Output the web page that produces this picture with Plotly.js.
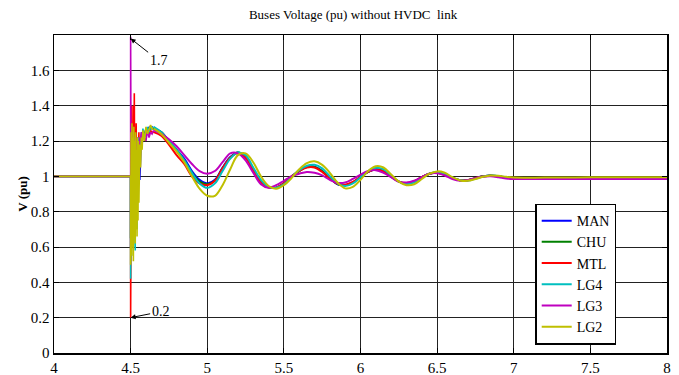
<!DOCTYPE html>
<html>
<head>
<meta charset="utf-8">
<script src="https://cdn.plot.ly/plotly-3.0.1.min.js"></script>
<style>html,body{margin:0;padding:0;background:#fff;}#chart{width:679px;height:375px;}</style>
</head>
<body>
<div id="chart"></div>
<script>
// Time stamps (s)
const tFault = [4.0, 4.5, 4.5, 4.503, 4.506, 4.509, 4.512, 4.515, 4.518, 4.521, 4.524, 4.527, 4.530,
  4.533, 4.536, 4.539, 4.542, 4.545, 4.548, 4.551, 4.554, 4.557, 4.560, 4.565, 4.570, 4.575, 4.580,
  4.590, 4.600, 4.610, 4.620, 4.630, 4.640];
const tSwing = [4.65, 4.70, 4.75, 4.80, 4.85, 4.90, 4.95, 5.00, 5.05, 5.10, 5.15, 5.20, 5.25, 5.30,
  5.35, 5.40, 5.45, 5.50, 5.55, 5.60, 5.65, 5.70, 5.75, 5.80, 5.85, 5.90, 5.95, 6.00, 6.05, 6.10,
  6.15, 6.20, 6.25, 6.30, 6.35, 6.40, 6.45, 6.50, 6.55, 6.60, 6.65, 6.70, 6.75, 6.80, 6.85, 6.90,
  6.95, 7.00, 7.20, 7.40, 7.60, 7.80, 8.00];

// Series names and colours
const names = ["MAN", "CHU", "MTL", "LG4", "LG3", "LG2"];
const colors = ["#0000FF", "#008000", "#FF0000", "#00BFBF", "#BF00BF", "#BFBF00"];

// Fault period voltages (pu)
const manFault = [1,1, 0.6, 1.2,0.7,1.25,0.8,1.2,0.75,1.22,0.85,1.18,0.8, 1.2,0.9,1.15,0.85,1.2,0.95,1.18,1.0,1.15,0.98, 1.2,1.22,1.2,1.26,1.22,1.27,1.25,1.28,1.27,1.28];
const chuFault = [1,1, 0.65, 1.22,0.72,1.2,0.82,1.24,0.78,1.2,0.88,1.18,0.82, 1.22,0.9,1.16,0.88,1.2,0.96,1.18,1.02,1.15,1.18, 1.2,1.23,1.21,1.25,1.23,1.27,1.25,1.27,1.27,1.27];
const mtlFault = [1,1, 0.2, 0.9,1.40,0.7,1.30,0.95,1.40,1.0,1.47,0.9,1.25, 1.05,1.30,1.1,1.22,0.95,1.20,1.12,1.25,1.05,1.22, 1.18,1.24,1.2,1.25,1.22,1.24,1.27,1.24,1.26,1.25];
const lg4Fault = [1,1, 0.42, 1.28,0.55,1.20,0.65,1.25,0.60,1.15,0.75,1.22,0.58, 1.18,0.85,1.20,0.70,1.15,0.95,1.22,1.0,1.18,1.22, 1.15,1.25,1.2,1.27,1.22,1.26,1.28,1.25,1.28,1.27];
const lg3Fault = [1,1, 1.79, 0.95,1.25,0.85,1.20,1.02,1.24,0.78,1.18,1.10,1.22, 0.90,1.20,1.15,1.05,1.22,0.88,1.20,1.17,1.05,1.22, 1.20,1.25,1.18,1.24,1.22,1.20,1.26,1.22,1.25,1.24];
const lg2Fault = [1,1, 0.5, 1.25,0.55,1.30,0.6,1.22,0.52,1.28,0.65,1.2,0.62, 1.25,0.7,1.15,0.66,1.22,0.75,1.2,0.85,1.1,1.18, 1.05,1.22,1.15,1.26,1.2,1.28,1.24,1.27,1.29,1.27];

// Post-fault swing voltages (pu)
const manSwing = [1.27,1.25,1.20,1.15,1.10,1.03,0.98,0.96,0.98,1.05,1.11,1.135,1.11,1.04,0.97,0.94,0.935,0.96,1.00,1.03,1.055,1.055,1.03,0.99,0.955,0.95,0.965,0.995,1.025,1.04,1.03,1.0,0.97,0.96,0.97,0.995,1.015,1.02,1.01,0.99,0.978,0.978,0.99,1.0,1.005,1.0,0.993,0.988,0.988,0.99,0.99,0.99,0.99];
const chuSwing = [1.27,1.25,1.20,1.15,1.09,1.02,0.97,0.955,0.975,1.045,1.105,1.135,1.11,1.04,0.97,0.94,0.936,0.96,0.998,1.03,1.052,1.053,1.03,0.99,0.956,0.95,0.966,0.996,1.025,1.04,1.03,1.0,0.97,0.96,0.97,0.995,1.015,1.02,1.01,0.99,0.978,0.978,0.99,1.0,1.005,1.0,0.993,0.988,0.988,0.99,0.99,0.99,0.99];
const mtlSwing = [1.25,1.23,1.18,1.12,1.07,1.0,0.96,0.95,0.975,1.045,1.105,1.13,1.105,1.035,0.965,0.937,0.937,0.962,1.0,1.03,1.05,1.05,1.025,0.988,0.957,0.952,0.968,0.998,1.025,1.038,1.028,0.998,0.97,0.962,0.972,0.996,1.015,1.02,1.008,0.99,0.978,0.979,0.99,1.0,1.004,1.0,0.993,0.988,0.988,0.989,0.99,0.99,0.99];
const lg4Swing = [1.28,1.25,1.20,1.15,1.09,1.02,0.96,0.935,0.96,1.03,1.10,1.135,1.12,1.05,0.98,0.94,0.935,0.955,0.995,1.035,1.06,1.065,1.045,1.0,0.96,0.945,0.96,0.995,1.03,1.048,1.04,1.005,0.97,0.956,0.965,0.99,1.015,1.025,1.015,0.993,0.978,0.976,0.987,0.999,1.004,1.002,0.995,0.99,0.99,0.99,0.99,0.99,0.99];
const lg3Swing = [1.26,1.24,1.21,1.17,1.12,1.07,1.03,1.015,1.03,1.08,1.13,1.13,1.09,1.02,0.955,0.935,0.95,0.975,1.0,1.015,1.025,1.02,1.005,0.98,0.963,0.965,0.985,1.01,1.03,1.035,1.02,0.995,0.97,0.965,0.975,0.995,1.015,1.018,1.005,0.985,0.975,0.978,0.99,0.998,1.0,0.995,0.988,0.985,0.985,0.985,0.985,0.985,0.985];
const lg2Swing = [1.27,1.24,1.19,1.14,1.08,1.0,0.93,0.89,0.89,0.95,1.04,1.12,1.13,1.08,1.0,0.945,0.93,0.95,0.99,1.04,1.075,1.085,1.065,1.02,0.965,0.932,0.94,0.98,1.03,1.057,1.05,1.01,0.97,0.95,0.955,0.985,1.015,1.028,1.02,0.995,0.977,0.975,0.985,0.998,1.005,1.003,0.997,0.993,0.993,0.994,0.995,0.995,0.995];

const faultSets = [manFault, chuFault, mtlFault, lg4Fault, lg3Fault, lg2Fault];
const swingSets = [manSwing, chuSwing, mtlSwing, lg4Swing, lg3Swing, lg2Swing];

const yTicks = [0, 0.2, 0.4, 0.6, 0.8, 1, 1.2, 1.4, 1.6];
const xTicks = [4, 4.5, 5, 5.5, 6, 6.5, 7, 7.5, 8];

const traces = [];
names.forEach((n, i) => {
  traces.push({
    x: tFault.concat([tSwing[0]]), y: faultSets[i].concat([swingSets[i][0]]),
    type: "scatter", mode: "lines", name: n, legendgroup: n, showlegend: false,
    line: {color: colors[i], width: 1.6, shape: "linear"}, hoverinfo: "skip"
  });
});
names.forEach((n, i) => {
  traces.push({
    x: tSwing, y: swingSets[i],
    type: "scatter", mode: "lines", name: n, legendgroup: n, showlegend: true,
    line: {color: colors[i], width: 2, shape: "spline", smoothing: 1}
  });
});

const serif = "Liberation Serif";
const layout = {
  width: 679, height: 375,
  margin: {l: 54, r: 12, t: 35, b: 22},
  paper_bgcolor: "#fff", plot_bgcolor: "#fff",
  font: {family: serif, size: 14, color: "#000"},
  title: {text: "Buses Voltage (pu) without HVDC&nbsp; link", x: 0.52, xanchor: "center", y: 0.962, yanchor: "middle",
          font: {family: serif, size: 13, color: "#000"}},
  xaxis: {range: [4, 8], tickvals: xTicks, ticktext: xTicks.map(String),
          showgrid: true, gridcolor: "#222", gridwidth: 1,
          showline: true, linecolor: "#000", linewidth: 1.5, mirror: "ticks",
          ticks: "inside", ticklen: 5, tickcolor: "#000", zeroline: false,
          tickfont: {family: serif, size: 15}},
  yaxis: {range: [0, 1.8], tickvals: yTicks, ticktext: yTicks.map(String),
          showgrid: true, gridcolor: "#222", gridwidth: 1,
          showline: true, linecolor: "#000", linewidth: 1.5, mirror: "ticks",
          ticks: "inside", ticklen: 5, tickcolor: "#000", zeroline: false,
          tickfont: {family: serif, size: 15},
          title: {text: "<b>V (pu)</b>", standoff: 0, font: {family: serif, size: 13}}},
  legend: {x: 0.785, y: 0.47, xanchor: "left", yanchor: "top",
           bgcolor: "#fff", bordercolor: "#000", borderwidth: 1.5,
           font: {family: serif, size: 14}, tracegroupgap: 0, itemwidth: 30},
  showlegend: true,
  annotations: [
    {x: 4.5, y: 1.78, xref: "x", yref: "y", text: "1.7", showarrow: true,
     arrowhead: 2, arrowsize: 1, arrowwidth: 1, arrowcolor: "#000", ax: 28, ay: 22,
     font: {family: serif, size: 14, color: "#000"}},
    {x: 4.5, y: 0.2, xref: "x", yref: "y", text: "0.2", showarrow: true,
     arrowhead: 2, arrowsize: 1, arrowwidth: 1, arrowcolor: "#000", ax: 30, ay: -6,
     font: {family: serif, size: 14, color: "#000"}}
  ]
};

Plotly.newPlot("chart", traces, layout, {displayModeBar: false, staticPlot: true});
</script>
</body>
</html>
